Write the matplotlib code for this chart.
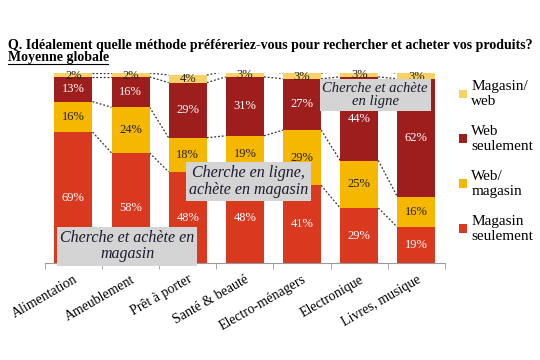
import matplotlib
matplotlib.use("Agg")
import matplotlib.pyplot as plt
import numpy as np
from matplotlib.patches import Patch

categories = ["Alimentation", "Ameublement", "Prêt à porter", "Santé & beauté",
              "Electro-ménagers", "Electronique", "Livres, musique"]
magasin_seul = [69, 58, 48, 48, 41, 29, 19]
web_magasin = [16, 24, 18, 19, 29, 25, 16]
web_seul = [13, 16, 29, 31, 27, 44, 62]
magasin_web = [2, 2, 4, 3, 3, 3, 3]

series = [
    ("Magasin\nseulement", magasin_seul, "#D8391F", "white"),
    ("Web/\nmagasin", web_magasin, "#F5B700", "#222222"),
    ("Web\nseulement", web_seul, "#9E1D1D", "white"),
    ("Magasin/\nweb", magasin_web, "#F8D264", "#222222"),
]

SERIF = ["Liberation Serif", "DejaVu Serif"]
plt.rcParams["font.family"] = SERIF
fig = plt.figure(figsize=(5.4, 3.6), dpi=100)
ax = fig.add_axes([0.083, 0.269, 0.741, 0.528])

x = np.arange(len(categories))
w = 0.667
bottom = np.zeros(len(categories))
cums = []
for label, vals, color, tcolor in series:
    vals = np.array(vals, dtype=float)
    ax.bar(x, vals, w, bottom=bottom, color=color, label=label, zorder=2)
    for xi, b, v in zip(x, bottom, vals):
        yc = b + v / 2 if v > 5 else b + v / 2 - 0.3
        ax.text(xi, yc, f"{int(v)}%", ha="center", va="center", color=tcolor,
                fontsize=9, zorder=3)
    bottom = bottom + vals
    cums.append(bottom.copy())

# dotted connector lines
for cum in cums:
    for i in range(len(categories) - 1):
        ax.plot([x[i] + w / 2, x[i + 1] - w / 2], [cum[i], cum[i + 1]],
                linestyle=(0, (1.5, 1.5)), color="#333333", lw=0.9, zorder=1)

ax.set_xlim(-0.5, len(categories) - 0.5)
ax.set_ylim(0, 100)
ax.set_yticks([])
for s in ["top", "right", "left"]:
    ax.spines[s].set_visible(False)
ax.spines["bottom"].set_color("#999999")
ax.set_xticks(x)
ax.set_xticklabels(categories, rotation=30, ha="right", rotation_mode="anchor",
                   fontsize=10)
ax.tick_params(axis="x", length=0, pad=7)
ax.set_xticks(np.arange(-0.5, len(categories), 1.0), minor=True)
ax.tick_params(axis="x", which="minor", length=4, color="#999999")

box = dict(boxstyle="square,pad=0.2", facecolor="#D4D4D4", edgecolor="none")
kw = dict(ha="center", va="center", style="italic",
          color="#1a1a2e", bbox=box, zorder=4, linespacing=1.05)
ax.text(0.94, 9, "Cherche et achète en\nmagasin", fontsize=11.5, **kw)
ax.text(3.06, 43, "Cherche en ligne,\nachète en magasin", fontsize=11.5, **kw)
ax.text(5.28, 88.5, "Cherche et achète\nen ligne", fontsize=10.5, **kw)

handles = [Patch(facecolor=c, label=l) for l, _, c, _ in series][::-1]
fig.legend(handles=handles, loc="upper left", bbox_to_anchor=(0.825, 0.815),
           frameon=False, fontsize=11, handlelength=0.5, handleheight=0.5,
           handletextpad=0.3, labelspacing=1.1)

fig.text(0.015, 0.875, "Q. Idéalement quelle méthode préféreriez-vous pour rechercher et acheter vos produits?",
         fontsize=10, fontweight="bold", va="center")
fig.text(0.015, 0.84, "Moyenne globale", fontsize=10, fontweight="bold", va="center")
fig.add_artist(plt.Line2D([0.015, 0.2], [0.822, 0.822], color="black", lw=0.8,
                          transform=fig.transFigure))

fig.savefig("out.png", dpi=100)
